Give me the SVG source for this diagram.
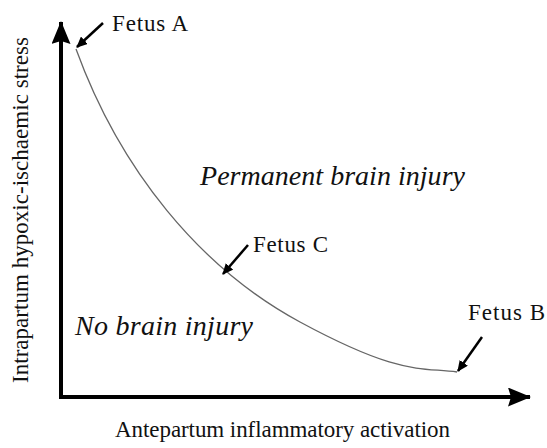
<svg xmlns="http://www.w3.org/2000/svg" width="547" height="448" viewBox="0 0 547 448">
<style>
text{font-family:"Liberation Serif","Times New Roman",serif;fill:#111}
.lbl{font-size:23px}
.reg{font-size:28px;font-style:italic}
.axis{stroke:#000;stroke-width:4;fill:none}
.ptr{stroke:#000;stroke-width:2.5;fill:none}
</style>
<defs>
<marker id="big" viewBox="0 0 23 19" refX="22" refY="9.5" markerWidth="23" markerHeight="19" orient="auto" markerUnits="userSpaceOnUse"><path d="M0,0 L23,9.5 L0,19 L3,9.5 z" fill="#000"/></marker>
<marker id="small" viewBox="0 0 11 10" refX="10" refY="5" markerWidth="11" markerHeight="10" orient="auto" markerUnits="userSpaceOnUse"><path d="M0,0 L11,5 L0,10 z" fill="#000"/></marker>
</defs>
<g id="connectors">
<path class="axis" d="M61,397 L61,22" marker-end="url(#big)"/>
<path class="axis" d="M59,397 L530,397" marker-end="url(#big)"/>
<path d="M76,49 C120,170 200,268 300,322 S420,367 457,372" stroke="#666" stroke-width="1.3" fill="none"/>
<path class="ptr" d="M103,23 L77,47" marker-end="url(#small)"/>
<path class="ptr" d="M248,245 L223,274" marker-end="url(#small)"/>
<path class="ptr" d="M482,337 L458,371" marker-end="url(#small)"/>
</g>
<g id="fetusA"><text class="lbl" x="112" y="31" textLength="76">Fetus A</text></g>
<g id="fetusC"><text class="lbl" x="253" y="252" textLength="75">Fetus C</text></g>
<g id="fetusB"><text class="lbl" x="468" y="320" textLength="77">Fetus B</text></g>
<g id="permanent"><text class="reg" x="200" y="185" textLength="265">Permanent brain injury</text></g>
<g id="none"><text class="reg" x="75" y="335" textLength="178">No brain injury</text></g>
<g id="yaxis"><text class="lbl" transform="translate(28,210) rotate(-90)" text-anchor="middle" textLength="346">Intrapartum hypoxic-ischaemic stress</text></g>
<g id="xaxis"><text class="lbl" x="115" y="437" textLength="335">Antepartum inflammatory activation</text></g>
</svg>
